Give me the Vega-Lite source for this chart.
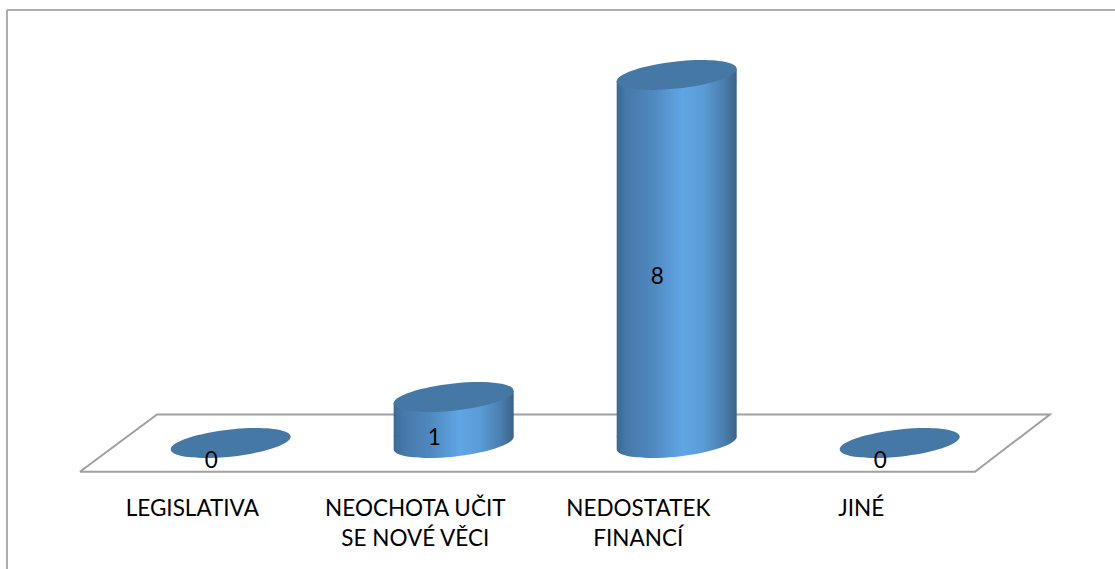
{
  "$schema": "https://vega.github.io/schema/vega-lite/v6.json",
  "width": 1108.5,
  "height": 559.5,
  "autosize": {"type": "none"},
  "padding": {"left": 6.5, "top": 9.5, "right": 0, "bottom": 0},
  "background": "#ffffff",
  "config": {"view": {"stroke": null}},
  "datasets": {
    "answers": [
      {"category": "LEGISLATIVA", "value": 0},
      {"category": "NEOCHOTA UČIT SE NOVÉ VĚCI", "value": 1},
      {"category": "NEDOSTATEK FINANCÍ", "value": 8},
      {"category": "JINÉ", "value": 0}
    ],
    "floor": [
      {"corner": 1, "across": -0.673, "level": -0.625},
      {"corner": 2, "across": 3.341, "level": -0.625},
      {"corner": 3, "across": 3.677, "level": 0.62},
      {"corner": 4, "across": -0.327, "level": 0.62},
      {"corner": 5, "across": -0.673, "level": -0.625}
    ]
  },
  "encoding": {
    "y": {
      "type": "quantitative",
      "scale": {"domain": [-2.739, 9.424], "nice": false, "zero": false},
      "axis": {"orient": "left", "title": null, "labels": false, "ticks": false, "grid": false, "domain": true, "domainColor": "#adadad", "domainWidth": 2}
    }
  },
  "layer": [
    {
      "data": {"name": "floor"},
      "mark": {"type": "line", "color": "#a0a0a0", "strokeWidth": 2, "strokeJoin": "miter"},
      "encoding": {
        "x": {
          "field": "across",
          "type": "quantitative",
          "scale": {"domain": [-1.002, 3.969], "nice": false, "zero": false},
          "axis": {"orient": "top", "title": null, "labels": false, "ticks": false, "grid": false, "domain": true, "domainColor": "#adadad", "domainWidth": 2}
        },
        "y": {"field": "level", "type": "quantitative"},
        "order": {"field": "corner"}
      }
    },
    {
      "data": {"name": "answers"},
      "encoding": {
        "x": {
          "field": "category",
          "type": "nominal",
          "scale": {
            "domain": ["LEGISLATIVA", "NEOCHOTA UČIT SE NOVÉ VĚCI", "NEDOSTATEK FINANCÍ", "JINÉ"],
            "paddingInner": 0,
            "paddingOuter": 0.4854,
            "align": 0.5205
          },
          "axis": {
            "orient": "bottom",
            "offset": -72,
            "title": null,
            "domain": false,
            "ticks": false,
            "grid": false,
            "labelAngle": 0,
            "labelPadding": 0,
            "labelOffset": -38.4,
            "labelFont": "Lato",
            "labelFontSize": 22.5,
            "labelColor": "#000000",
            "labelLineHeight": 30,
            "labelLimit": 400,
            "labelOverlap": false,
            "labelBound": false,
            "labelFlush": false,
            "labelBaseline": "top",
            "labelExpr": "datum.value == 'NEOCHOTA UČIT SE NOVÉ VĚCI' ? ['NEOCHOTA UČIT', 'SE NOVÉ VĚCI'] : datum.value == 'NEDOSTATEK FINANCÍ' ? ['NEDOSTATEK', 'FINANCÍ'] : datum.value"
          }
        }
      },
      "layer": [
        {
          "transform": [{"filter": "datum.value > 0"}],
          "mark": {
            "type": "bar",
            "size": 120,
            "yOffset": 6.3,
            "y2Offset": -6.3,
            "fill": {"gradient": "linear", "x1": 0, "x2": 1, "y1": 0, "y2": 0, "stops": [
              {"offset": 0, "color": "#3a6892"},
              {"offset": 0.08, "color": "#4679a8"},
              {"offset": 0.3, "color": "#4f88c0"},
              {"offset": 0.55, "color": "#5fa6e4"},
              {"offset": 0.72, "color": "#5a9cd6"},
              {"offset": 0.9, "color": "#4a7dac"},
              {"offset": 1, "color": "#3a6488"}
            ]}
          },
          "encoding": {
            "y": {"field": "value", "type": "quantitative"},
            "y2": {"datum": 0}
          }
        },
        {
          "transform": [{"filter": "datum.value > 0"}],
          "mark": {
            "type": "point",
            "filled": true,
            "opacity": 1,
            "size": 14400,
            "shape": "M-1,0.105 L1,-0.105 L1,0.115 L-1,0.115 Z",
            "fill": {"gradient": "linear", "x1": 0, "x2": 1, "y1": 0, "y2": 0, "stops": [
              {"offset": 0, "color": "#3a6892"},
              {"offset": 0.08, "color": "#4679a8"},
              {"offset": 0.3, "color": "#4f88c0"},
              {"offset": 0.55, "color": "#5fa6e4"},
              {"offset": 0.72, "color": "#5a9cd6"},
              {"offset": 0.9, "color": "#4a7dac"},
              {"offset": 1, "color": "#3a6488"}
            ]}
          },
          "encoding": {"y": {"field": "value", "type": "quantitative"}}
        },
        {
          "transform": [{"filter": "datum.value > 0"}],
          "mark": {
            "type": "point",
            "filled": true,
            "opacity": 1,
            "size": 14400,
            "shape": "M1,-0.115 L1,-0.105 C1,0.0204 0.5523,0.169 0,0.227 C-0.5523,0.285 -1,0.2304 -1,0.105 L-1,-0.115 Z",
            "fill": {"gradient": "linear", "x1": 0, "x2": 1, "y1": 0, "y2": 0, "stops": [
              {"offset": 0, "color": "#3a6892"},
              {"offset": 0.08, "color": "#4679a8"},
              {"offset": 0.3, "color": "#4f88c0"},
              {"offset": 0.55, "color": "#5fa6e4"},
              {"offset": 0.72, "color": "#5a9cd6"},
              {"offset": 0.9, "color": "#4a7dac"},
              {"offset": 1, "color": "#3a6488"}
            ]}
          },
          "encoding": {"y": {"datum": 0}}
        },
        {
          "mark": {
            "type": "point",
            "filled": true,
            "opacity": 1,
            "size": 14400,
            "fill": "#4678a5",
            "shape": "M1,-0.105 C1,0.0204 0.5523,0.169 0,0.227 C-0.5523,0.285 -1,0.2304 -1,0.105 C-1,-0.0204 -0.5523,-0.169 0,-0.227 C0.5523,-0.285 1,-0.2304 1,-0.105 Z"
          },
          "encoding": {"y": {"field": "value", "type": "quantitative"}}
        },
        {
          "mark": {"type": "text", "font": "Lato", "fontSize": 22.5, "color": "#000000", "dx": -19.5, "dy": 17.5},
          "encoding": {
            "y": {"field": "value", "type": "quantitative", "stack": "zero", "bandPosition": 0.5},
            "detail": {"field": "category"},
            "text": {"field": "value", "type": "quantitative"}
          }
        }
      ]
    }
  ],
  "resolve": {"scale": {"x": "independent"}, "axis": {"x": "independent"}}
}
